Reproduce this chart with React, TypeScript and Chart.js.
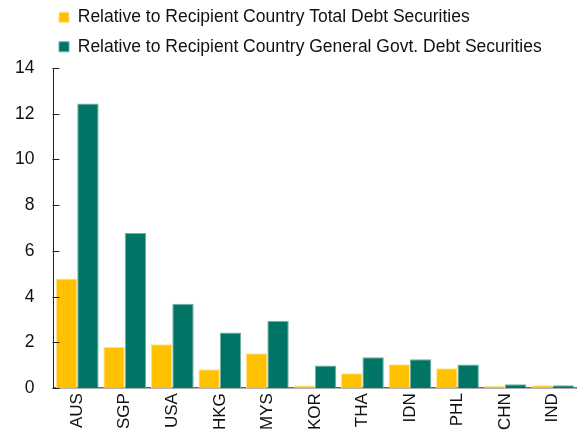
import React, { useEffect, useRef } from "react";
import { Chart, registerables } from "chart.js";

Chart.register(...registerables);

const categories = ["AUS", "SGP", "USA", "HKG", "MYS", "KOR", "THA", "IDN", "PHL", "CHN", "IND"];
const totalDebt = [4.8, 1.8, 1.92, 0.83, 1.53, 0.12, 0.65, 1.05, 0.87, 0.09, 0.13];
const govtDebt = [12.45, 6.79, 3.69, 2.43, 2.95, 0.99, 1.35, 1.26, 1.03, 0.17, 0.13];
const seriesNames = [
  "Relative to Recipient Country Total Debt Securities",
  "Relative to Recipient Country General Govt. Debt Securities",
];
const yTicks = [0, 2, 4, 6, 8, 10, 12, 14];

const FONT = "'Liberation Sans', Arial, sans-serif";

const legendShift = {
  id: "legendShift",
  afterLayout(chart: any) {
    if (chart.legend) {
      chart.legend.left = 47;
      chart.legend.top = -3.5;
    }
  },
};

const innerTicks = {
  id: "innerTicks",
  afterDatasetsDraw(chart: any) {
    const y = chart.scales.y;
    const ctx = chart.ctx;
    const x0 = chart.chartArea.left;
    ctx.save();
    ctx.strokeStyle = "#222";
    ctx.lineWidth = 1;
    y.ticks.forEach((t: any) => {
      const py = Math.round(y.getPixelForValue(t.value)) + 0.5;
      ctx.beginPath();
      ctx.moveTo(x0 - 1, py);
      ctx.lineTo(x0 + 6, py);
      ctx.stroke();
    });
    ctx.restore();
  },
};

export default function App() {
  const ref = useRef<HTMLCanvasElement>(null);
  useEffect(() => {
    if (!ref.current) return;
    const chart = new Chart(ref.current, {
      type: "bar",
      data: {
        labels: categories,
        datasets: [
          {
            label: seriesNames[0],
            data: totalDebt,
            backgroundColor: "#FFC000",
            borderColor: "#FFE38A",
            borderWidth: 1,
            categoryPercentage: 0.9,
            barPercentage: 1,
          },
          {
            label: seriesNames[1],
            data: govtDebt,
            backgroundColor: "#007565",
            borderColor: "#6FB0A4",
            borderWidth: 1,
            categoryPercentage: 0.9,
            barPercentage: 1,
          },
        ],
      },
      options: {
        animation: false,
        responsive: false,
        maintainAspectRatio: false,
        layout: { padding: { left: -4, right: 1, top: -1, bottom: -5 } },
        plugins: {
          legend: {
            display: true,
            position: "top",
            align: "start",
            labels: {
              boxWidth: 10,
              boxHeight: 10,
              padding: 12,
              color: "#111",
              font: { family: FONT, size: 17.5 },
            },
          },
          tooltip: { enabled: false },
        },
        scales: {
          x: {
            grid: { display: false, drawTicks: false },
            border: { display: true, color: "#666", width: 1.5 },
            ticks: {
              color: "#111",
              font: { family: FONT, size: 17 },
              minRotation: 90,
              maxRotation: 90,
              padding: 5,
            },
          },
          y: {
            min: 0,
            max: 14,
            afterBuildTicks(axis: any) {
              axis.ticks = yTicks.map((v) => ({ value: v }));
            },
            grid: { display: false, drawTicks: false },
            border: { display: true, color: "#222", width: 1 },
            ticks: {
              color: "#111",
              font: { family: FONT, size: 17.5 },
              padding: 19,
            },
          },
        },
      },
      plugins: [legendShift, innerTicks],
    });
    return () => chart.destroy();
  }, []);
  return (
    <div style={{ position: "absolute", left: 0, top: 0, width: 578, height: 430 }}>
      <canvas ref={ref} width={578} height={430} style={{ width: 578, height: 430 }} />
    </div>
  );
}
